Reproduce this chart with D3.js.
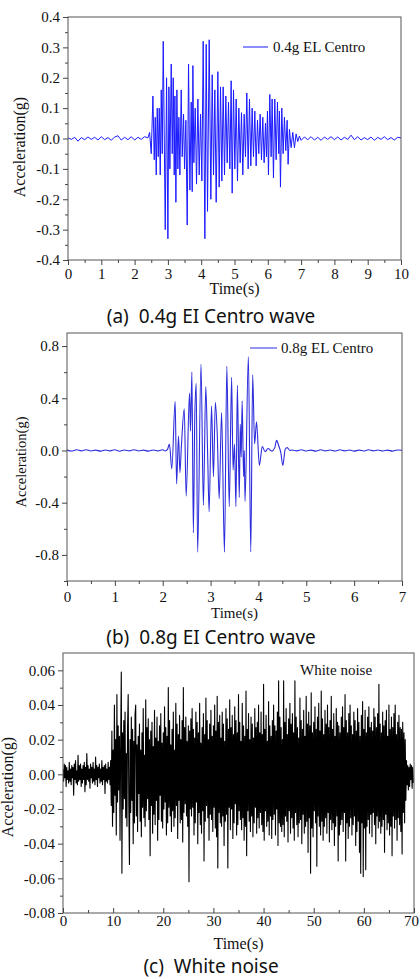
<!DOCTYPE html>
<html><head><meta charset="utf-8">
<script src="https://cdn.jsdelivr.net/npm/d3@7"></script>
<style>body{margin:0;background:#fff}svg{display:block}</style>
</head><body><svg id="chart" width="420" height="979"></svg>
<script>
// ---------- DATA ----------
// (a) 0.4g EL Centro : [time s, acceleration g]
const elCentro04 = [
 [0,0.002],[0.1,-0.003],[0.2,0.004],[0.3,-0.009],[0.4,0.003],[0.5,-0.004],[0.6,0.005],[0.7,-0.003],[0.8,0.004],[0.9,-0.005],
 [1.0,0.006],[1.1,-0.004],[1.2,0.003],[1.3,-0.006],[1.4,0.005],[1.5,0.009],[1.6,-0.005],[1.7,0.004],[1.8,-0.004],[1.9,0.006],
 [2.0,-0.005],[2.1,0.004],[2.2,-0.003],[2.3,0.006],[2.4,0.002],
 [2.45,0.02],[2.50,-0.05],[2.55,0.14],[2.59,-0.07],[2.62,0.07],[2.65,-0.12],[2.68,0.10],[2.71,-0.06],[2.74,0.10],[2.77,-0.12],
 [2.80,0.16],[2.83,-0.05],[2.86,0.32],[2.92,-0.30],[2.96,0.20],[3.00,-0.33],[3.03,0.17],[3.06,-0.10],[3.10,0.245],[3.13,-0.05],
 [3.16,0.20],[3.19,-0.12],[3.21,0.14],[3.24,-0.21],[3.27,0.16],[3.30,-0.10],[3.33,0.07],[3.36,-0.12],[3.40,0.16],[3.43,-0.06],
 [3.47,0.08],[3.50,-0.10],[3.54,0.06],[3.58,-0.285],[3.62,0.245],[3.66,-0.17],[3.70,0.12],[3.73,-0.175],[3.75,0.24],[3.78,-0.08],
 [3.82,0.10],[3.86,-0.15],[3.90,0.13],[3.94,-0.12],[3.98,0.08],[4.02,-0.14],[4.06,0.32],[4.11,-0.33],[4.15,0.31],[4.19,-0.24],
 [4.24,0.325],[4.29,-0.20],[4.33,0.21],[4.37,-0.12],[4.41,0.16],[4.45,-0.21],[4.50,0.22],[4.54,-0.16],[4.58,0.17],[4.62,-0.14],
 [4.66,0.17],[4.70,-0.12],[4.74,0.14],[4.78,-0.08],[4.82,0.12],[4.86,-0.10],[4.90,0.19],[4.93,-0.18],[4.97,0.16],[5.01,-0.10],
 [5.05,0.13],[5.09,-0.14],[5.13,0.10],[5.17,-0.08],[5.21,0.085],[5.25,-0.12],[5.29,0.08],[5.33,-0.06],[5.37,0.15],[5.41,-0.10],
 [5.45,0.13],[5.49,-0.09],[5.53,0.10],[5.57,-0.06],[5.61,0.09],[5.65,-0.09],[5.69,0.06],[5.73,-0.05],[5.77,0.08],[5.81,-0.07],
 [5.85,0.07],[5.89,-0.08],[5.93,0.05],[5.96,-0.06],[5.99,0.09],[6.02,-0.12],[6.06,0.145],[6.10,-0.06],[6.13,0.13],[6.17,-0.13],
 [6.21,0.13],[6.25,-0.07],[6.29,0.12],[6.33,-0.05],[6.35,0.09],[6.38,-0.16],[6.42,0.10],[6.46,-0.05],[6.50,0.07],[6.54,-0.04],
 [6.58,0.06],[6.61,-0.085],[6.65,0.03],[6.70,-0.03],[6.75,0.02],[6.80,-0.03],[6.85,0.015],[6.90,-0.01],[6.95,0.008],
 [7.0,-0.006],[7.1,0.005],[7.2,-0.004],[7.3,0.006],[7.4,-0.005],[7.5,0.004],[7.6,-0.006],[7.7,0.005],[7.8,-0.003],[7.9,0.006],
 [8.0,-0.004],[8.1,0.005],[8.2,-0.005],[8.3,0.004],[8.4,-0.003],[8.5,0.011],[8.6,-0.004],[8.7,0.006],[8.8,-0.005],[8.9,0.003],
 [9.0,-0.004],[9.1,0.005],[9.2,-0.006],[9.3,0.004],[9.4,-0.003],[9.5,0.006],[9.6,-0.004],[9.7,0.003],[9.8,-0.005],[9.9,0.004],[10.0,0.002]
];
// (b) 0.8g EL Centro : [time s, acceleration g]
const elCentro08 = [
 [0,0.003],[0.1,-0.004],[0.2,0.005],[0.3,-0.003],[0.4,0.006],[0.5,-0.004],[0.6,0.003],[0.7,-0.005],[0.8,0.004],[0.9,-0.003],
 [1.0,0.005],[1.1,-0.006],[1.2,0.004],[1.3,-0.003],[1.4,0.006],[1.5,-0.004],[1.6,0.003],[1.7,-0.005],[1.8,0.004],[1.9,-0.003],
 [2.0,0.006],[2.05,-0.004],[2.10,0.008],
 [2.14,0.05],[2.19,-0.14],[2.26,0.377],[2.29,-0.256],[2.33,0.11],[2.36,-0.17],[2.39,0.03],[2.45,0.32],[2.49,-0.35],[2.56,0.44],
 [2.58,0.15],[2.61,0.60],[2.64,-0.63],[2.67,0.25],[2.70,0.515],[2.73,-0.78],[2.80,0.66],[2.85,-0.42],[2.90,0.49],[2.94,-0.05],
 [2.97,-0.47],[3.02,0.34],[3.06,-0.20],[3.10,0.37],[3.14,0.12],[3.18,-0.37],[3.23,0.29],[3.29,-0.78],[3.34,0.645],[3.39,-0.43],
 [3.44,0.56],[3.47,-0.15],[3.50,0.05],[3.53,-0.43],[3.56,0.50],[3.60,-0.36],[3.62,0.20],[3.64,-0.05],[3.66,0.38],[3.69,-0.20],
 [3.705,0.0],[3.72,-0.39],[3.79,0.72],[3.84,-0.777],[3.88,0.58],[3.92,0.05],[3.96,0.22],[4.02,-0.115],[4.08,0.03],[4.14,-0.01],
 [4.20,0.015],[4.28,-0.005],[4.34,0.02],[4.38,0.077],[4.42,0.04],[4.47,-0.02],[4.51,-0.115],[4.56,0.01],[4.60,0.022],[4.66,0.0],
 [4.7,0.004],[4.8,-0.003],[4.9,0.005],[5.0,-0.004],[5.1,0.003],[5.2,-0.005],[5.3,0.006],[5.4,-0.003],[5.5,0.004],[5.6,-0.004],
 [5.7,0.005],[5.8,-0.003],[5.9,0.004],[6.0,-0.005],[6.1,0.003],[6.2,-0.004],[6.3,0.005],[6.4,-0.003],[6.5,0.004],[6.6,-0.004],
 [6.7,0.003],[6.8,-0.005],[6.9,0.004],[7.0,0.002]
];
// (c) white noise, sampled every noiseDt seconds, values in milli-g
const noiseDt = 0.125;
const noiseMg = [
 3,-4,6,-2,5,-7,4,-3,2,-5,7,-4,3,-6,5,-2,
 4,-12,6,-3,8,-5,2,-6,11,-4,5,-3,6,-7,3,-5,
 5,-3,7,-10,4,-6,12,-3,5,-4,3,-8,6,-2,4,-5,
 7,-4,3,-6,10,-3,5,-7,4,-2,6,-5,3,-4,8,-6,
 4,-3,5,-11,6,-4,3,-5,7,-3,4,-6,
 8,-18,25,-30,14,-22,40,-12,20,-35,46,-16,28,-9,22,-38,
 18,59,-57,24,-20,31,-14,36,-25,12,-30,27,46,-18,-52,20,
 -22,33,-15,26,-40,19,-28,35,40,-24,17,-33,22,-11,29,-27,
 14,-36,24,-19,38,-25,11,-30,43,-21,27,-14,32,-26,20,-47,
 25,-18,30,-34,16,-23,37,-29,21,-15,33,-38,19,-26,28,-12,
 35,-27,18,-31,24,-20,39,-16,27,-35,22,-28,50,-19,31,-24,
 17,-33,26,-21,36,-30,14,-25,41,-18,29,-37,23,-15,34,-28,
 20,-26,31,-39,50,-22,27,-17,33,-24,19,-30,28,-62,25,-20,
 32,-24,38,-19,26,-35,21,-28,36,-16,30,-40,24,-22,41,-29,
 18,-34,27,-21,35,-50,23,-27,44,-18,31,-25,20,-38,29,-23,
 37,-26,22,-33,28,-19,40,-31,25,-36,45,-54,30,-22,34,-28,
 21,-30,36,-24,29,-41,19,-27,38,-23,32,-54,26,-19,43,-32,
 27,-20,34,-37,23,-28,39,-17,31,-35,24,-29,46,-21,30,-26,
 19,-32,41,-25,28,-38,22,-30,48,-47,26,-21,35,-27,20,-33,
 33,-24,29,-36,21,-28,38,-19,27,-34,30,-25,40,-31,24,-22,
 36,-29,23,-33,52,-38,26,-21,34,-30,19,-27,42,-35,28,-24,
 22,-37,31,-26,40,-23,28,-35,25,-20,36,-41,54,-28,33,-30,
 27,-33,20,-29,54,-36,30,-24,38,-27,23,-39,32,-21,41,-34,
 29,-25,35,-31,24,-38,54,-22,33,-29,27,-36,21,-28,44,-26,
 31,-40,26,-23,37,-34,22,-30,45,-27,29,-45,36,-25,28,-57,
 47,-31,24,-36,30,-21,39,-28,26,-53,33,-24,41,-30,25,-35,
 48,-27,32,-38,23,-30,37,-25,29,-34,40,-22,27,-39,31,-26,
 45,-32,26,-28,35,-41,22,-30,38,-24,30,-50,28,-35,24,-29,
 33,-26,39,-33,27,-22,46,-50,31,-28,24,-37,35,-30,40,-25,
 28,-35,23,-29,36,-24,31,-41,25,-33,38,-27,30,-45,22,-57,
 34,-28,42,-59,26,-31,37,-55,24,-30,33,-26,39,-34,27,-23,
 30,-36,25,-22,38,-29,33,-40,27,-24,35,-31,52,-27,29,-34,
 24,-30,36,-26,28,-45,31,-23,37,-32,22,-28,40,-35,26,-30,
 33,-47,27,-24,35,-31,40,-26,23,-38,30,-25,34,-29,27,-33,
 26,-46,30,-22,24,-28,20,-15,
 8,-6,5,-9,4,-7,6,-3,5,-8,4,-5
];
// ticks
const xTicksA = [0,1,2,3,4,5,6,7,8,9,10];
const xMinorA = [0.5,1.5,2.5,3.5,4.5,5.5,6.5,7.5,8.5,9.5];
const yTicksA = [-0.4,-0.3,-0.2,-0.1,0,0.1,0.2,0.3,0.4];
const yMinorA = [-0.35,-0.25,-0.15,-0.05,0.05,0.15,0.25,0.35];
const xTicksB = [0,1,2,3,4,5,6,7];
const xMinorB = [0.5,1.5,2.5,3.5,4.5,5.5,6.5];
const yTicksB = [-0.8,-0.4,0,0.4,0.8];
const yMinorB = [-1.0,-0.6,-0.2,0.2,0.6];
const xTicksC = [0,10,20,30,40,50,60,70];
const xMinorC = [5,15,25,35,45,55,65];
const yTicksC = [-0.08,-0.06,-0.04,-0.02,0,0.02,0.04,0.06];
const yMinorC = [-0.07,-0.05,-0.03,-0.01,0.01,0.03,0.05];
// texts
const legendA = "0.4g EL Centro", legendB = "0.8g EL Centro", legendC = "White noise";
const captionA = "(a)  0.4g EI Centro wave", captionB = "(b)  0.8g EI Centro wave", captionC = "(c)  White noise";
const xTitle = "Time(s)", yTitle = "Acceleration(g)";

// ---------- DRAW ----------
const svg = d3.select("#chart");
const SERIF = "'Liberation Serif','Times New Roman',serif";
const SANS = "'Noto Sans','Open Sans',sans-serif";

function panel(o){
  const g = svg.append("g");
  const x = d3.scaleLinear().domain(o.xDomain).range([o.left, o.right]);
  const y = d3.scaleLinear().domain(o.yDomain).range([o.bottom, o.top]);
  const id = "clip" + o.key;
  svg.append("clipPath").attr("id", id).append("rect")
    .attr("x", o.left).attr("y", o.top).attr("width", o.right - o.left).attr("height", o.bottom - o.top);

  // series
  g.append("path").datum(o.data)
    .attr("clip-path", `url(#${id})`)
    .attr("fill", "none").attr("stroke", o.color).attr("stroke-width", o.lw)
    .attr("stroke-linejoin", "round")
    .attr("d", d3.line().x(d => x(d[0])).y(d => y(d[1])).curve(o.curve || d3.curveLinear));

  // frame
  g.append("rect").attr("x", o.left).attr("y", o.top)
    .attr("width", o.right - o.left).attr("height", o.bottom - o.top)
    .attr("fill", "none").attr("stroke", "#555").attr("stroke-width", 1);

  const style = sel => {
    sel.attr("font-family", null).attr("font-size", null);
    sel.select(".domain").remove();
    sel.selectAll("line").attr("stroke", "#444");
    sel.selectAll("text").style("font-family", SERIF).style("font-size", o.fs + "px").attr("fill", "#111");
  };
  const xs = o.xInward ? -1 : 1;
  const xLabel = g.append("g").attr("transform", `translate(0,${o.bottom})`)
    .call(d3.axisBottom(x).tickValues(o.xTicks).tickSize(5 * xs).tickPadding(o.xPad).tickFormat(d => String(d)))
    .call(style)
    .call(s => s.selectAll("text").attr("y", o.xPad).attr("dy", "0.71em"));
  if (o.lastShift) xLabel.selectAll("text").filter((d, i, n) => i === n.length - 1).attr("dx", o.lastShift);
  g.append("g").attr("transform", `translate(0,${o.bottom})`)
    .call(d3.axisBottom(x).tickValues(o.xMinor).tickSize(3 * xs).tickFormat(""))
    .call(style);
  g.append("g").attr("transform", `translate(${o.left},0)`)
    .call(d3.axisLeft(y).tickValues(o.yTicks).tickSize(5).tickPadding(3).tickFormat(d => d.toFixed(o.dec)))
    .call(style);
  g.append("g").attr("transform", `translate(${o.left},0)`)
    .call(d3.axisLeft(y).tickValues(o.yMinor).tickSize(3).tickFormat(""))
    .call(style);

  // titles
  g.append("text").attr("x", (o.left + o.right) / 2).attr("y", o.xTitleY)
    .attr("text-anchor", "middle").style("font-family", SERIF).style("font-size", o.tfs + "px").attr("fill", "#111")
    .text(xTitle);
  g.append("text").attr("transform", `translate(${o.yTitleX},${o.yTitleY}) rotate(-90)`)
    .attr("text-anchor", "middle").style("font-family", SERIF).style("font-size", o.yfs + "px").attr("fill", "#111")
    .text(yTitle);
  // legend
  if (o.legLine) {
    g.append("line").attr("x1", o.legLine[0]).attr("x2", o.legLine[1])
      .attr("y1", o.legLine[2]).attr("y2", o.legLine[2])
      .attr("stroke", o.color).attr("stroke-width", 1);
  }
  g.append("text").attr("x", o.legX).attr("y", o.legY)
    .style("font-family", SERIF).style("font-size", o.lfs + "px").attr("fill", "#111").text(o.legend);
  // caption
  g.append("text").attr("x", 211).attr("y", o.capY).attr("text-anchor", "middle")
    .style("white-space", "pre")
    .style("font-family", SANS).style("font-size", "19px").attr("fill", "#111").text(o.caption);
}

panel({key:"a", data: elCentro04, color:"#1a1aff", lw:1,
  xDomain:[0,10], yDomain:[-0.4,0.4], left:68, right:401, top:17, bottom:260,
  xTicks:xTicksA, xMinor:xMinorA, yTicks:yTicksA, yMinor:yMinorA, dec:1,
  fs:15, tfs:16, yfs:16, lfs:15, xPad:8, xTitleY:294, yTitleX:25, yTitleY:147,
  legLine:[243,268,47], legX:273, legY:52, legend:legendA, capY:323, caption:captionA});

panel({key:"b", data: elCentro08, color:"#2c2cdc", lw:1.1, curve: d3.curveMonotoneX,
  xDomain:[0,7], yDomain:[-1.0,0.9], left:67, right:402, top:333, bottom:581,
  xTicks:xTicksB, xMinor:xMinorB, yTicks:yTicksB, yMinor:yMinorB, dec:1,
  fs:15, tfs:15, yfs:14.5, lfs:15, xPad:10, xTitleY:618, yTitleX:26, yTitleY:462,
  legLine:[250,277,348], legX:281, legY:353, legend:legendB, capY:644, caption:captionB});

const noiseData = noiseMg.map((v, i) => [i * noiseDt, v / 1000]);
panel({key:"c", data: noiseData, color:"#000", lw:1.1,
  xDomain:[0,70], yDomain:[-0.08,0.07], left:63, right:414, top:653, bottom:913,
  xTicks:xTicksC, xMinor:xMinorC, yTicks:yTicksC, yMinor:yMinorC, dec:2, xInward:true, lastShift:-3,
  fs:15, tfs:16, yfs:16, lfs:15, xPad:2, xTitleY:949, yTitleX:13, yTitleY:787,
  legLine:null, legX:300, legY:675, legend:legendC, capY:973, caption:captionC});
</script></body></html>
